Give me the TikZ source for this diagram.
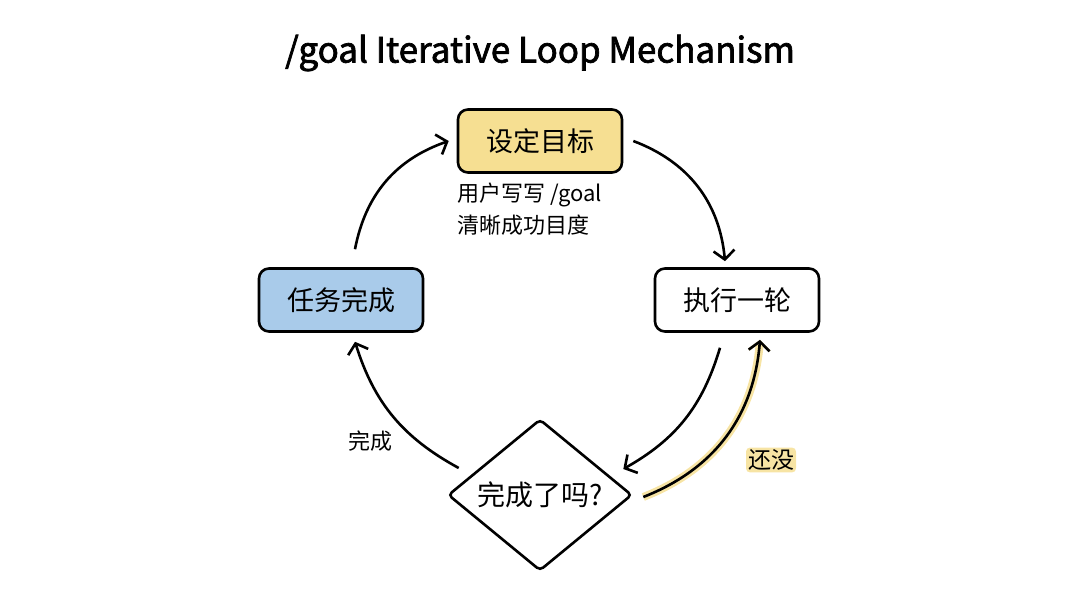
\documentclass[tikz,border=0pt]{standalone}
\usepackage{fontspec}
\setmainfont{Noto Sans CJK SC}
\newfontfamily\titlefont[FakeBold=2]{Noto Sans CJK SC}
\usetikzlibrary{shapes.geometric}
\usetikzlibrary{arrows.meta, positioning}
\definecolor{goalyellow}{HTML}{F6DF92}
\definecolor{doneblue}{HTML}{A9CBEA}
\definecolor{glow}{HTML}{F7E4A4}

\begin{document}
\begin{tikzpicture}[x=1pt,y=-1pt,
    box/.style={draw, line width=2.6pt, rounded corners=10pt,
        minimum width=164pt, minimum height=63pt,
        font=\fontsize{27}{30}\selectfont},
    check/.style={draw, diamond, line width=2.6pt, rounded corners=4pt,
        inner sep=0pt, minimum width=184pt, minimum height=136pt,
        font=\fontsize{28}{30}\selectfont},
    note/.style={font=\fontsize{22}{32}\selectfont, align=left},
    arr/.style={line width=2.6pt,
        -{Straight Barb[length=9pt,width=21pt,line width=2.6pt]}},
    every node/.style={inner sep=2pt}]
    \useasboundingbox (0,0) rectangle (1080,602);

    \node[font=\fontsize{35}{38}\selectfont\titlefont] (title) at (540,53)
        {/goal Iterative Loop Mechanism};

    \node[box, fill=goalyellow] (goal) at (540,141) {设定目标};
    \node[box, fill=white] (run) at (737,300) {执行一轮};
    \node[box, fill=doneblue] (done) at (341,300) {任务完成};
    \node[check] (ask) at (540,495) {完成了吗?};

    \node[note, anchor=north west] (hint) at (455,181)
        {用户写写 /goal\\清晰成功目度};

    % loop
    \draw[arr] ([xshift=10pt]goal.east) to[bend left=32]
        ([xshift=-12pt,yshift=6pt]run.north);
    \draw[arr] ([xshift=-17pt,yshift=-15pt]run.south) to[bend left=22]
        ([xshift=-10pt,yshift=26pt]ask.east);
    \draw[arr, preaction={draw=glow, line width=8pt}]
        ([xshift=10pt,yshift=-2pt]ask.east) to[bend right=32]
        ([xshift=23pt,yshift=-7pt]run.south);
    \node[fill=glow, rounded corners=4pt, font=\fontsize{23}{26}\selectfont]
        (notyet) at (771,460) {还没};
    \draw[arr] ([xshift=12pt,yshift=27pt]ask.west) to[bend left=22]
        ([xshift=14pt,yshift=-9pt]done.south);
    \node[font=\fontsize{22}{26}\selectfont] (yes) at (370,441) {完成};
    \draw[arr] ([xshift=14pt,yshift=18pt]done.north) to[bend left=30]
        ([xshift=-8pt]goal.west);

\end{tikzpicture}
\end{document}
